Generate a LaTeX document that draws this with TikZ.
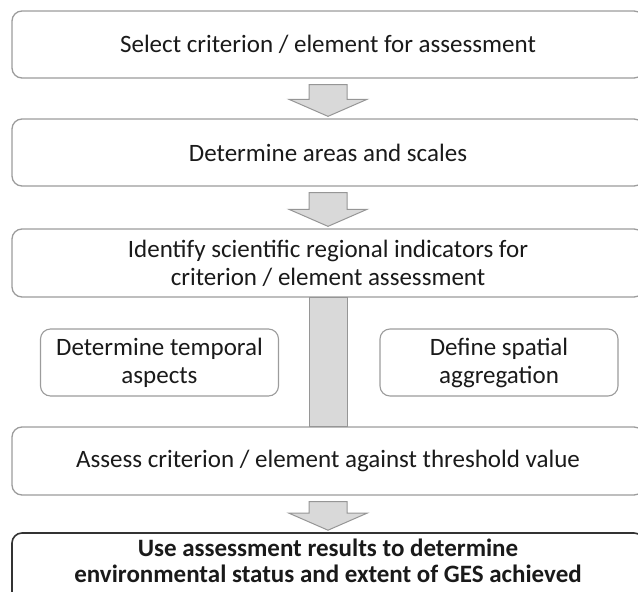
\documentclass[tikz,border=0pt]{standalone}
\usepackage{fontspec}
\setmainfont{Carlito}
\usetikzlibrary{calc,positioning}
\definecolor{boxGray}{HTML}{9C9C9C}
\definecolor{arrFill}{HTML}{D9D9D9}
\definecolor{arrDraw}{HTML}{969696}
\definecolor{txtDark}{HTML}{1A1A1A}
\newcommand{\stepdown}[2]{%
  \draw[blockarr] ($(#1.south)+(-19,6)$) -- ($(#1.south)+(19,6)$) -- ($(#2.north)+(19,-19)$)
    -- ($(#2.north)+(39,-19)$) -- ($(#2.north)+(0,-2)$) -- ($(#2.north)+(-39,-19)$)
    -- ($(#2.north)+(-19,-19)$) -- cycle;}
\begin{document}
\begin{tikzpicture}[x=1pt,y=-1pt,
  font=\fontsize{25}{28}\selectfont, text=txtDark,
  stagebox/.style={draw=boxGray,line width=1.3pt,rounded corners=10pt,fill=white,
    minimum width=632pt,minimum height=67pt,align=center,inner sep=0pt},
  sidebox/.style={draw=boxGray,line width=1.1pt,rounded corners=10pt,fill=white,
    minimum width=238pt,minimum height=67pt,align=center,inner sep=0pt},
  blockarr/.style={fill=arrFill,draw=arrDraw,line width=1pt,line join=miter}]
  \useasboundingbox (0,0) rectangle (638,592);
  \clip (0,0) rectangle (638,592);
  \node[stagebox] (select) at (328,44.5) {Select criterion / element for assessment};
  \node[stagebox] (areas) at (328,152.5) {Determine areas and scales};
  \node[stagebox,minimum height=68pt] (indic) at (328,263) {Identify scientific regional indicators for\\criterion / element assessment};
  \node[stagebox,minimum height=68pt] (assess) at (328,461) {Assess criterion / element against threshold value};
  \node[stagebox,draw=black!80,line width=1.6pt,minimum height=80pt,text depth=24pt,font=\fontsize{25}{26}\selectfont\bfseries] (result) at (328,573) {Use assessment results to determine\\environmental status and extent of GES achieved};
  \node[sidebox] (temporal) at (159.5,362.5) {Determine temporal\\aspects};
  \node[sidebox] (spatial) at (499,362.5) {Define spatial\\aggregation};
  % arrows between stages
  \stepdown{select}{areas}
  \stepdown{areas}{indic}
  \stepdown{assess}{result}
  \draw[blockarr] ($(indic.south)+(-19,0)$) rectangle ($(assess.north)+(19,0)$);
\end{tikzpicture}
\end{document}
